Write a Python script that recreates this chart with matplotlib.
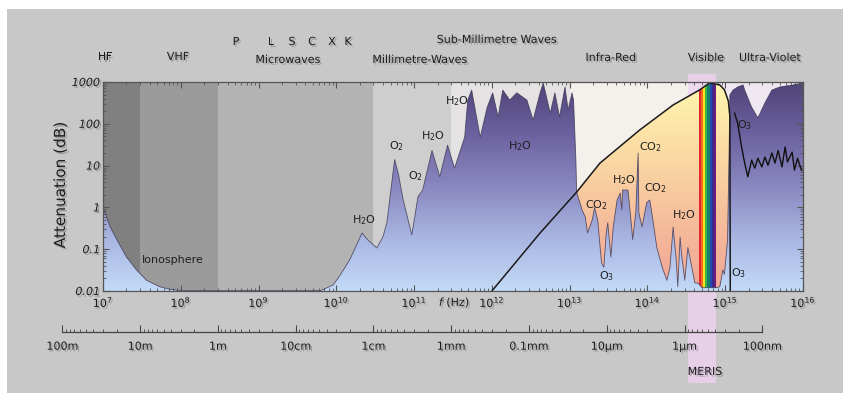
import numpy as np
import matplotlib
matplotlib.use("Agg")
import matplotlib.pyplot as plt
from matplotlib.colors import LinearSegmentedColormap
from matplotlib.patches import Rectangle
from matplotlib.ticker import LogLocator, FixedLocator, NullFormatter
from matplotlib import patheffects as pe
from matplotlib.transforms import blended_transform_factory

W, H = 843, 393
C = 2.998e8  # speed of light, for the wavelength scale

# frequency bands shaded behind the curves (edges in Hz)
band_edges = [1e7, 3e7, 3e8, 3e10, 3e11, 1e13, 3.3e14, 7.7e14, 1e16]
band_colors = ['#808080', '#9b9b9b', '#b3b3b3', '#cecece', '#e4e2e2',
               '#f4f0ec', '#eddaee', '#efe7f1']

# atmospheric attenuation (log10 of Hz, dB)
att_logf = [7.00, 7.09, 7.18, 7.30, 7.43, 7.56, 7.73, 7.86, 8.00, 9.80,
            9.96, 10.05, 10.17, 10.26, 10.33, 10.40, 10.52, 10.60, 10.65, 10.70,
            10.75, 10.80, 10.86, 10.97, 11.05, 11.11, 11.23, 11.33, 11.43, 11.52,
            11.65, 11.69, 11.74, 11.85, 11.94, 12.01, 12.08, 12.14, 12.23, 12.32,
            12.45, 12.53, 12.62, 12.66, 12.75, 12.81, 12.87, 12.94, 12.98, 13.03,
            13.05, 13.08, 13.09, 13.16, 13.20, 13.23, 13.29, 13.32, 13.36, 13.41,
            13.44, 13.47, 13.49, 13.53, 13.56, 13.61, 13.65, 13.67, 13.68, 13.75,
            13.80, 13.81, 13.85, 13.88, 13.89, 13.93, 13.99, 14.03, 14.07, 14.12,
            14.19, 14.25, 14.29, 14.33, 14.37, 14.39, 14.42, 14.44, 14.48, 14.52,
            14.57, 14.61, 14.65, 14.70, 14.88, 14.93, 14.97, 14.99, 15.03, 15.05,
            15.06, 15.10, 15.16, 15.23, 15.25, 15.34, 15.42, 15.51, 15.60, 15.70,
            15.87, 16.00]
att_db = [1.0, 0.35, 0.166, 0.066, 0.032, 0.018, 0.0126, 0.011, 0.0102, 0.0102,
          0.014, 0.024, 0.055, 0.126, 0.245, 0.17, 0.107, 0.2, 0.43, 2.5,
          14, 6, 1.5, 0.22, 1.8, 2.6, 23, 5.4, 31, 8.7,
          48, 370, 640, 48, 250, 550, 146, 640, 370, 550,
          370, 123, 550, 950, 180, 550, 146, 760, 214, 550,
          370, 13.6, 2.3, 0.87, 0.59, 0.245, 0.5, 1.0, 0.5, 0.047,
          0.037, 0.245, 0.43, 0.065, 0.34, 1.5, 2.2, 0.87, 2.6, 2.6,
          0.29, 0.17, 0.74, 20, 0.74, 0.34, 1.3, 1.5, 0.5, 0.11,
          0.037, 0.018, 0.037, 0.34, 0.055, 0.0126, 0.195, 0.072, 0.018, 0.11,
          0.037, 0.0155, 0.0155, 0.012, 0.012, 0.0126, 0.032, 0.025, 0.166, 23,
          490, 640, 760, 850, 640, 250, 138, 315, 640, 760,
          850, 950]

# solar curve (black line)
sun_logf = [12.0, 12.62, 13.09, 13.39, 13.90, 14.33, 14.67, 14.80, 14.93,
            14.99, 15.04, 15.06, 15.065]
sun_db = [0.01, 0.245, 2.33, 11.5, 71, 282, 646, 955, 851,
          650, 350, 150, 0.01]

# ozone line in the ultra-violet
o3_logf = [15.12, 15.16, 15.21, 15.25, 15.29, 15.34, 15.38, 15.42, 15.47, 15.51,
           15.55, 15.60, 15.64, 15.68, 15.73, 15.77, 15.80, 15.86, 15.89, 15.93,
           15.98]
o3_db = [180, 104, 28, 11.5, 5.4, 13.5, 8.7, 15, 9.3, 16,
         10.2, 20, 11.5, 23, 9.3, 28, 12.2, 21, 7.8, 15,
         7.8]

# visible spectrum stripes
rainbow_range = (4.6e14, 7.6e14)
rainbow_colors = ['#e3262e', '#f26b22', '#f5e51a', '#3cb04a', '#14806c',
                  '#2348b0', '#3a2a8c', '#6e1a7a']
meris_range = (3.3e14, 7.7e14)

# molecule labels (Hz, dB)
mol_text = ['H$_2$O', 'O$_2$', 'O$_2$', 'H$_2$O', 'H$_2$O', 'H$_2$O',
            'CO$_2$', 'H$_2$O', 'CO$_2$', 'CO$_2$', 'H$_2$O',
            'O$_3$', 'O$_3$', 'O$_3$', 'Ionosphere']
mol_f = [2.26e10, 5.9e10, 1.05e11, 1.74e11, 3.5e11, 2.3e12,
         2.2e13, 5.0e13, 1.08e14, 1.28e14, 2.96e14,
         3.0e13, 1.5e15, 1.78e15, 8.0e7]
mol_db = [0.5, 29, 5.6, 51, 350, 29,
          1.15, 4.5, 28, 2.9, 0.66,
          0.023, 0.027, 93, 0.055]

# frequency and wavelength ticks
freq_ticks = [10.0 ** k for k in range(7, 17)]
freq_labels = [r'$\mathit{10}^{\mathit{%d}}$' % k for k in range(7, 17)]
att_ticks = [0.01, 0.1, 1, 10, 100, 1000]
att_labels = ['0.01', '0.1', '1', '10', '100', '1000']
wl_values = [100, 10, 1, 0.1, 0.01, 1e-3, 1e-4, 1e-5, 1e-6, 1e-7]
wl_labels = ['100m', '10m', '1m', '10cm', '1cm', '1mm', '0.1mm', '10μm', '1μm', '100nm']

# band names above the plot (pixel positions)
top_text = ['HF', 'VHF', 'P', 'L', 'S', 'C', 'X', 'K', 'Microwaves',
            'Millimetre-Waves', 'Sub-Millimetre Waves', 'Infra-Red', 'Visible',
            'Ultra-Violet']
top_xy = [(105, 57), (178, 57), (236, 42), (271, 42), (292, 42), (312, 42),
          (332, 42), (348, 42), (288, 60), (420, 60), (497, 40), (611, 58),
          (706, 58), (770, 58)]

shadow = [pe.withSimplePatchShadow(offset=(1.2, -1.2), shadow_rgbFace='#666666', alpha=0.45)]
txt_color = '#1e1e1e'

fig = plt.figure(figsize=(W / 100, H / 100), dpi=100, facecolor='white')
fig.add_artist(Rectangle((7 / W, 0), 1, 1 - 9 / H, transform=fig.transFigure,
                         facecolor='#c8c8c8', edgecolor='none', zorder=-10))

ax = fig.add_axes([103 / W, 1 - 291 / H, 700 / W, 209 / H])
ax.set_xscale('log')
ax.set_yscale('log')
ax.set_xlim(1e7, 1e16)
ax.set_ylim(0.01, 1000)
ax.set_autoscale_on(False)
ax.patch.set_visible(False)

for lo, hi, col in zip(band_edges[:-1], band_edges[1:], band_colors):
    ax.axvspan(lo, hi, color=col, lw=0, zorder=0)

att_f = 10 ** np.array(att_logf)
sun_f = 10 ** np.array(sun_logf)
o3_f = 10 ** np.array(o3_logf)

peach = LinearSegmentedColormap.from_list('peach', ['#f0a494', '#f6bd9c', '#fbdba4', '#fff6b0'])
purple = LinearSegmentedColormap.from_list('purple', ['#c3daf7', '#a9b6e2', '#8a88c0', '#6c62a0', '#4f4377'])
grad = np.linspace(0, 1, 256)[:, None]

sun_poly = ax.fill_between(sun_f, 0.01, sun_db, facecolor='none', edgecolor='none')
sun_path = sun_poly.get_paths()[0]
im = ax.imshow(grad, cmap=peach, origin='lower', extent=(0, 1, 0, 1), transform=ax.transAxes,
               aspect='auto', zorder=1, interpolation='bilinear')
im.set_clip_path(sun_path, ax.transData)

edges = np.geomspace(rainbow_range[0], rainbow_range[1], len(rainbow_colors) + 1)
for e0, e1, col in zip(edges[:-1], edges[1:], rainbow_colors):
    r = ax.axvspan(e0, e1, color=col, lw=0, zorder=1.5)
    r.set_clip_path(sun_path, ax.transData)

att_poly = ax.fill_between(att_f, 0.01, att_db, facecolor='none', edgecolor='none')
im2 = ax.imshow(grad, cmap=purple, origin='lower', extent=(0, 1, 0, 1), transform=ax.transAxes,
                aspect='auto', zorder=2, interpolation='bilinear')
im2.set_clip_path(att_poly.get_paths()[0], ax.transData)

ax.plot(att_f, att_db, color='#3a3550', lw=0.6, alpha=0.8, zorder=3)
ax.plot(sun_f, sun_db, color='#1a1a1a', lw=1.1, zorder=4)
ax.plot(o3_f, o3_db, color='#111111', lw=1.0, zorder=4)

for s, f, v in zip(mol_text, mol_f, mol_db):
    ax.text(f, v, s, fontsize=8, color=txt_color, ha='center', va='center', zorder=5)

ax.set_axisbelow(False)
ax.set_xticks(freq_ticks)
ax.set_xticklabels(freq_labels)
ax.set_yticks(att_ticks)
ax.set_yticklabels(att_labels, fontstyle='italic')
ax.xaxis.set_minor_locator(LogLocator(base=10, subs=np.arange(2, 10), numticks=100))
ax.yaxis.set_minor_locator(LogLocator(base=10, subs=np.arange(2, 10), numticks=100))
ax.xaxis.set_minor_formatter(NullFormatter())
ax.yaxis.set_minor_formatter(NullFormatter())
ax.tick_params(which='both', direction='in', top=True, right=True, color='#555555',
               labelsize=8, labelcolor=txt_color)
ax.tick_params(which='major', length=4, width=0.8)
ax.tick_params(which='minor', length=2, width=0.6)
ax.tick_params(axis='x', pad=2)
ax.tick_params(axis='y', pad=2)
for lab in ax.get_xticklabels() + ax.get_yticklabels():
    lab.set_path_effects(shadow)
for sp in ax.spines.values():
    sp.set_color('#555555')
    sp.set_linewidth(0.9)
    sp.set_zorder(6)

ax.set_ylabel('Attenuation (dB)', fontsize=11, color=txt_color, path_effects=shadow)
ax.yaxis.set_label_coords(-0.05, 0.507)
ax.text(10 ** 11.52, -0.057, r'$\mathit{f}$ (Hz)', fontsize=8, color=txt_color,
        ha='center', va='center', path_effects=shadow,
        transform=blended_transform_factory(ax.transData, ax.transAxes))

# MERIS band, behind everything, running from above the plot down past the wavelength scale
meris = Rectangle((meris_range[0], 1 - 383 / H), meris_range[1] - meris_range[0], (383 - 74) / H,
                  transform=blended_transform_factory(ax.transData, fig.transFigure),
                  facecolor='#e7cfe8', edgecolor='none', zorder=-1, clip_on=False)
fig.add_artist(meris)
fig.text(705 / W, 1 - 372 / H, 'MERIS', fontsize=8, color=txt_color, ha='center', va='center',
         path_effects=shadow)

# wavelength scale
x0 = 103 + (np.log10(C / wl_values[0]) - 7) * 700 / 9
ax2 = fig.add_axes([x0 / W, 1 - 332 / H, 700 / W, 0.0005])
ax2.set_xscale('log')
ax2.set_xlim(C / wl_values[0], C / wl_values[-1])
ax2.patch.set_visible(False)
ax2.set_yticks([])
for k in ['top', 'left', 'right']:
    ax2.spines[k].set_visible(False)
ax2.spines['bottom'].set_color('#444444')
ax2.spines['bottom'].set_linewidth(0.9)
ax2.set_xticks([C / w for w in wl_values])
ax2.set_xticklabels(wl_labels)
ax2.xaxis.set_minor_locator(FixedLocator([C / (k * w) for w in wl_values[1:] for k in range(2, 10)]))
ax2.xaxis.set_minor_formatter(NullFormatter())
ax2.tick_params(which='both', direction='in', color='#444444', labelsize=8, labelcolor=txt_color)
ax2.tick_params(which='major', length=5, width=0.8, pad=7)
ax2.tick_params(which='minor', length=2.5, width=0.6)
for lab in ax2.get_xticklabels():
    lab.set_path_effects(shadow)

for s, (x, y) in zip(top_text, top_xy):
    fig.text(x / W, 1 - y / H, s, fontsize=8, color=txt_color, ha='center', va='center',
             path_effects=shadow)

fig.savefig('out.png', dpi=100, facecolor=fig.get_facecolor())
